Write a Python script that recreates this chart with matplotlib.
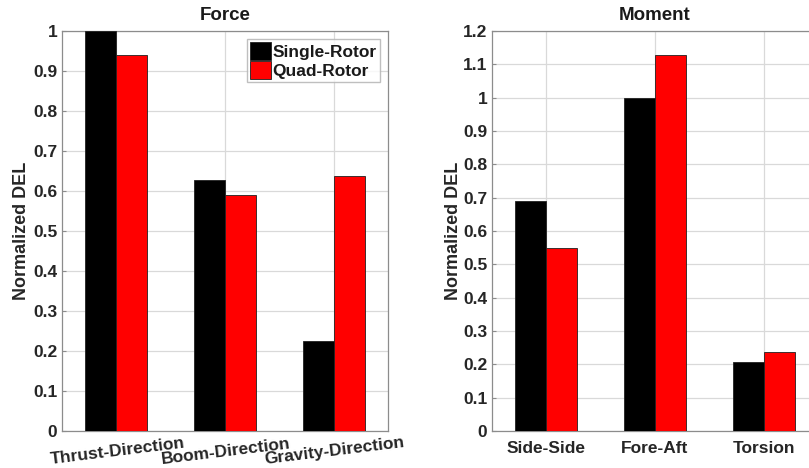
import matplotlib.pyplot as plt
import numpy as np

plt.rcParams["font.family"] = ["Liberation Sans", "DejaVu Sans"]
plt.rcParams["font.weight"] = "bold"

SERIES = ["Single-Rotor", "Quad-Rotor"]
COLORS = ["#000000", "#ff0000"]

force_labels = ["Thrust-Direction", "Boom-Direction", "Gravity-Direction"]
force_single = [1.0, 0.627, 0.224]
force_quad = [0.94, 0.589, 0.637]

moment_labels = ["Side-Side", "Fore-Aft", "Torsion"]
moment_single = [0.691, 1.0, 0.207]
moment_quad = [0.548, 1.127, 0.238]

BAR_W = 0.285
TEXT_C = "#262626"
SPINE_C = "#8c8c8c"


def grouped_bars(ax, labels, single, quad, ymax, title, rot=0):
    x = np.arange(1, len(labels) + 1)
    for i, (vals, c, name) in enumerate(zip([single, quad], COLORS, SERIES)):
        ax.bar(x + (i - 0.5) * BAR_W, vals, width=BAR_W, color=c,
               edgecolor="#202020", linewidth=0.6, label=name, zorder=3)
    ax.set_xlim(0.5, 3.5)
    ax.set_ylim(0, ymax)
    yt = np.round(np.arange(0, ymax + 0.001, 0.1), 1)
    ax.set_yticks(yt)
    ax.set_yticklabels([("%g" % v) for v in yt])
    ax.set_xticks(x)
    ax.set_xticklabels(labels, rotation=rot, ha="center",
                       rotation_mode="anchor" if rot else "default")
    ax.grid(True, color="#d9d9d9", linewidth=0.9, zorder=0)
    ax.set_axisbelow(True)
    for s in ax.spines.values():
        s.set_color(SPINE_C)
        s.set_linewidth(0.9)
    ax.tick_params(axis="both", direction="in", length=3, color=SPINE_C,
                   labelcolor=TEXT_C, labelsize=12.5)
    ax.set_ylabel("Normalized DEL", fontsize=13, fontweight="bold", color=TEXT_C)
    ax.set_title(title, fontsize=13.5, fontweight="bold", color="#1a1a1a", pad=8)


fig = plt.figure(figsize=(8.09, 4.68), dpi=100)

ax1 = fig.add_axes([62 / 809, 1 - 431 / 468, 326 / 809, 400 / 468])
grouped_bars(ax1, force_labels, force_single, force_quad, 1.0, "Force", rot=7)
for t in ax1.get_xticklabels():
    t.set_y(-0.02)
ax1.yaxis.set_label_coords(-0.098, 0.5)
leg = ax1.legend(loc="upper right", frameon=True, fancybox=False,
                 edgecolor="#b0b0b0", handlelength=1.2, handleheight=1.2,
                 handletextpad=0.1, borderpad=0.2, labelspacing=0.05,
                 borderaxespad=0.45, prop={"weight": "bold", "size": 12.5})
for t in leg.get_texts():
    t.set_color("#1a1a1a")

ax2 = fig.add_axes([492 / 809, 1 - 431 / 468, 326 / 809, 400 / 468])
grouped_bars(ax2, moment_labels, moment_single, moment_quad, 1.2, "Moment")
ax2.tick_params(axis="x", pad=7)
ax2.yaxis.set_label_coords(-0.092, 0.5)

fig.savefig("out.png", dpi=100)
